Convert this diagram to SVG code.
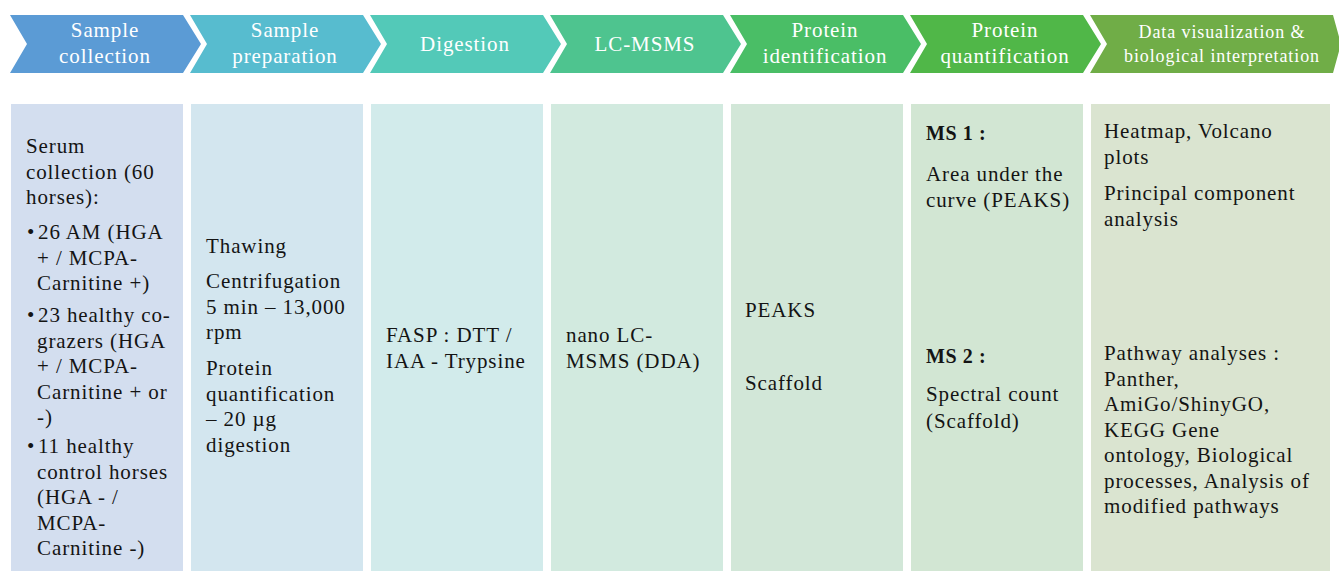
<svg xmlns="http://www.w3.org/2000/svg" width="1339" height="572" viewBox="0 0 1339 572">
<style>
text{font-family:"Liberation Serif","Times New Roman",serif;}
.h{fill:#fff;font-size:21px;letter-spacing:0.9px;text-anchor:middle;}
.hs{fill:#fff;font-size:18px;letter-spacing:0.9px;text-anchor:middle;}
.b{fill:#141414;font-size:21px;letter-spacing:0.9px;}
.bb{fill:#141414;font-size:20px;font-weight:bold;letter-spacing:0.6px;}
</style>
<rect width="1339" height="572" fill="#fff"/>
<g id="header">
<g id="step1"><path d="M10,15 L183,15 L201,44 L183,73 L10,73 L27,44 Z" fill="#5B9BD5"/>
<text class="h" x="105" y="37">Sample</text><text class="h" x="105" y="63">collection</text></g>
<g id="step2"><path d="M190,15 L363,15 L381,44 L363,73 L190,73 L207,44 Z" fill="#57BCCF"/>
<text class="h" x="285" y="37">Sample</text><text class="h" x="285" y="63">preparation</text></g>
<g id="step3"><path d="M370,15 L543,15 L561,44 L543,73 L370,73 L387,44 Z" fill="#53C9B8"/>
<text class="h" x="465" y="51">Digestion</text></g>
<g id="step4"><path d="M550,15 L723,15 L741,44 L723,73 L550,73 L567,44 Z" fill="#4EC48F"/>
<text class="h" x="645" y="51">LC-MSMS</text></g>
<g id="step5"><path d="M730,15 L903,15 L921,44 L903,73 L730,73 L747,44 Z" fill="#4ABE66"/>
<text class="h" x="825" y="37">Protein</text><text class="h" x="825" y="63">identification</text></g>
<g id="step6"><path d="M910,15 L1083,15 L1101,44 L1083,73 L910,73 L927,44 Z" fill="#50B748"/>
<text class="h" x="1005" y="37">Protein</text><text class="h" x="1005" y="63">quantification</text></g>
<g id="step7"><path d="M1090,15 L1333,15 L1341,44 L1333,73 L1090,73 L1107,44 Z" fill="#70AD47"/>
<text class="hs" x="1222" y="38">Data visualization &amp;</text><text class="hs" x="1222" y="62">biological interpretation</text></g>
</g>
<g id="connectors"></g>
<g id="col1"><rect x="11" y="104" width="172" height="467" fill="#D3DEEF"/>
<text class="b" x="26" y="153">Serum</text>
<text class="b" x="26" y="178.5">collection (60</text>
<text class="b" x="26" y="204">horses):</text>
<text class="b" x="27" y="239">•</text><text class="b" x="38" y="239">26 AM (HGA</text>
<text class="b" x="37" y="264.5">+ / MCPA-</text>
<text class="b" x="37" y="290">Carnitine +)</text>
<text class="b" x="27" y="322">•</text><text class="b" x="38" y="322">23 healthy co-</text>
<text class="b" x="37" y="347.5">grazers (HGA</text>
<text class="b" x="37" y="373">+ / MCPA-</text>
<text class="b" x="37" y="398.5">Carnitine + or</text>
<text class="b" x="37" y="424">-)</text>
<text class="b" x="27" y="453">•</text><text class="b" x="38" y="453">11 healthy</text>
<text class="b" x="37" y="478.5">control horses</text>
<text class="b" x="37" y="504">(HGA - /</text>
<text class="b" x="37" y="529.5">MCPA-</text>
<text class="b" x="37" y="555">Carnitine -)</text>
</g>
<g id="col2"><rect x="191" y="104" width="172" height="467" fill="#D3E6EF"/>
<text class="b" x="206" y="253">Thawing</text>
<text class="b" x="206" y="288">Centrifugation</text>
<text class="b" x="206" y="313.5">5 min – 13,000</text>
<text class="b" x="206" y="339">rpm</text>
<text class="b" x="206" y="375">Protein</text>
<text class="b" x="206" y="400.5">quantification</text>
<text class="b" x="206" y="426">– 20 µg</text>
<text class="b" x="206" y="451.5">digestion</text>
</g>
<g id="col3"><rect x="371" y="104" width="172" height="467" fill="#D2EBEB"/>
<text class="b" x="386" y="342">FASP : DTT /</text>
<text class="b" x="386" y="368">IAA - Trypsine</text>
</g>
<g id="col4"><rect x="551" y="104" width="172" height="467" fill="#D2EADF"/>
<text class="b" x="566" y="342">nano LC-</text>
<text class="b" x="566" y="368">MSMS (DDA)</text>
</g>
<g id="col5"><rect x="731" y="104" width="172" height="467" fill="#D2E7D8"/>
<text class="b" x="745" y="317">PEAKS</text>
<text class="b" x="745" y="390">Scaffold</text>
</g>
<g id="col6"><rect x="911" y="104" width="172" height="467" fill="#D2E6D3"/>
<text class="bb" x="926" y="140">MS 1 :</text>
<text class="b" x="926" y="181">Area under the</text>
<text class="b" x="926" y="207">curve (PEAKS)</text>
<text class="bb" x="926" y="363">MS 2 :</text>
<text class="b" x="926" y="401">Spectral count</text>
<text class="b" x="926" y="428">(Scaffold)</text>
</g>
<g id="col7"><rect x="1091" y="104" width="239" height="467" fill="#DAE4D0"/>
<text class="b" x="1104" y="138">Heatmap, Volcano</text>
<text class="b" x="1104" y="163.5">plots</text>
<text class="b" x="1104" y="200">Principal component</text>
<text class="b" x="1104" y="225.5">analysis</text>
<text class="b" x="1104" y="360">Pathway analyses :</text>
<text class="b" x="1104" y="385.5">Panther,</text>
<text class="b" x="1104" y="411">AmiGo/ShinyGO,</text>
<text class="b" x="1104" y="436.5">KEGG Gene</text>
<text class="b" x="1104" y="462">ontology, Biological</text>
<text class="b" x="1104" y="487.5">processes, Analysis of</text>
<text class="b" x="1104" y="513">modified pathways</text>
</g>
</svg>
